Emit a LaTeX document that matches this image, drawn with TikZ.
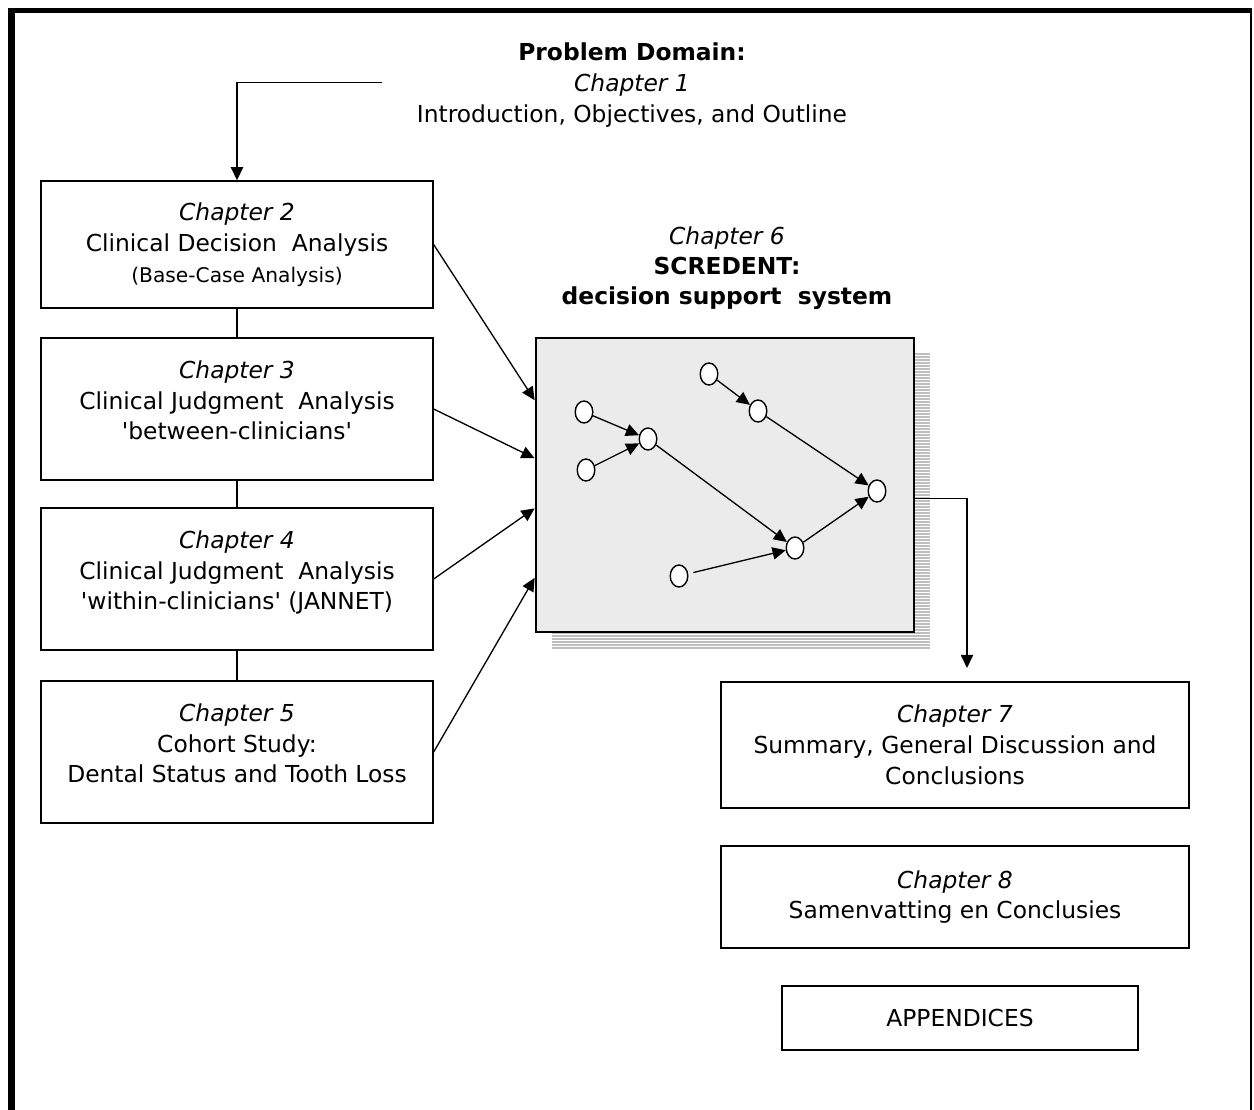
\documentclass[tikz,border=0pt]{standalone}
\usepackage{fontspec}
\setmainfont{DejaVu Sans}
\usetikzlibrary{arrows.meta,shapes.geometric}

\begin{document}
\begin{tikzpicture}[x=0.02cm,y=-0.02cm,
		chapbox/.style={draw,line width=0.8pt,align=center,inner sep=0pt,font=\fontsize{13.3}{17.5}\selectfont},
		netnode/.style={draw,ellipse,fill=white,line width=0.8pt,minimum width=10pt,minimum height=12.5pt,inner sep=0pt},
		tip/.style={-{Triangle[length=7.5pt,width=7pt]},line width=0.75pt}]
			\useasboundingbox (0,0) rectangle (1254,1109);
			\draw[line width=4pt] (11.5,1115) -- (11.5,8);
			\draw[line width=2.8pt] (8,10.5) -- (1252,10.5);
			\draw[line width=1.4pt] (1251,9) -- (1251,1115);
			\node[align=center,font=\fontsize{13.3}{17.5}\selectfont] (ch1) at (632,85) {\textbf{Problem Domain:}\\\textit{Chapter 1}\\Introduction, Objectives, and Outline};
			\node[chapbox,minimum width=7.84cm,minimum height=2.54cm] (ch2) at (237,244.5) {\textit{Chapter 2}\\Clinical Decision~~Analysis\\{\fontsize{11.5}{15}\selectfont (Base-Case Analysis)}};
			\node[chapbox,minimum width=7.84cm,minimum height=2.84cm] (ch3) at (237,409) {\textit{Chapter 3}\\Clinical Judgment~~Analysis\\\textquotesingle between-clinicians\textquotesingle\\[-7.5pt]\mbox{}};
			\node[chapbox,minimum width=7.84cm,minimum height=2.84cm] (ch4) at (237,579) {\textit{Chapter 4}\\Clinical Judgment~~Analysis\\\textquotesingle within-clinicians\textquotesingle{} (JANNET)\\[-7.5pt]\mbox{}};
			\node[chapbox,minimum width=7.84cm,minimum height=2.84cm] (ch5) at (237,752) {\textit{Chapter 5}\\Cohort Study:\\Dental Status and Tooth Loss\\[-7.5pt]\mbox{}};
			\draw[line width=0.8pt] (ch2.south) -- (ch3.north);
			\draw[line width=0.8pt] (ch3.south) -- (ch4.north);
			\draw[line width=0.8pt] (ch4.south) -- (ch5.north);
			\coordinate (top) at (382,82.5);
			\draw[tip] (top) -| (ch2.north);
			\node[align=center,font=\fontsize{13.3}{17}\selectfont] (ch6lab) at (727,268) {\textit{Chapter 6}\\\textbf{SCREDENT:}\\\textbf{decision support~~system}};
			\foreach \y in {354,357,...,648} \draw[black!25,line width=1.1pt] (552,\y) -- (930,\y);
			\node[draw,line width=1.6pt,fill=black!8,minimum width=7.56cm,minimum height=5.88cm,inner sep=0pt] (ch6) at (725,485) {};
			\node[netnode] (n1) at (584,412) {};
			\node[netnode] (n2) at (586,470) {};
			\node[netnode] (n3) at (648,439) {};
			\node[netnode] (n4) at (709,374) {};
			\node[netnode] (n5) at (758,411) {};
			\node[netnode] (n6) at (877,491) {};
			\node[netnode] (n7) at (795,548) {};
			\node[netnode] (n8) at (679,576) {};
			\draw[tip] (n1) -- (n3);
			\draw[tip] (n2) -- (n3);
			\draw[tip] (n3) -- (n7);
			\draw[tip] (n4) -- (n5);
			\draw[tip] (n5) -- (n6);
			\draw[tip] (n7) -- (n6);
			\draw[tip,shorten <=3pt] (n8) -- (n7);
			\draw[tip] (ch2.east) -- (ch6.156);
			\draw[tip] (ch3.east) -- (ch6.172);
			\draw[tip] (ch4.east) -- (ch6.187);
			\draw[tip] (ch5.east) -- (ch6.206);
			\node[chapbox,minimum width=9.36cm,minimum height=2.52cm] (ch7) at (955,745) {\textit{Chapter 7}\\Summary, General Discussion and\\Conclusions};
			\coordinate (ch7in) at (967,668);
			\draw[tip] (ch6.356) -| (ch7in);
			\node[chapbox,minimum width=9.36cm,minimum height=2.04cm] (ch8) at (955,897) {\textit{Chapter 8}\\Samenvatting en Conclusies};
			\node[chapbox,minimum width=7.12cm,minimum height=1.28cm] (app) at (960,1018) {APPENDICES};
		\end{tikzpicture}
\end{document}
